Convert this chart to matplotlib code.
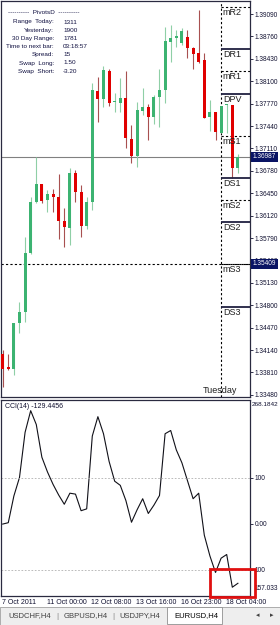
import matplotlib
matplotlib.use('Agg')
import matplotlib.pyplot as plt
from matplotlib.patches import Rectangle

plt.rcParams['font.family'] = ['Liberation Sans', 'DejaVu Sans']

# EURUSD H4 candles
opens = [1.34081, 1.33889, 1.33860, 1.34538, 1.34700, 1.35569, 1.36320, 1.36585, 1.36350, 1.36438,
         1.36394, 1.36040, 1.35937, 1.36747, 1.36467, 1.35967, 1.36320, 1.37955, 1.37838, 1.38250,
         1.37793, 1.37779, 1.37852, 1.37248, 1.36998, 1.37661, 1.37720, 1.37572, 1.37867, 1.37970,
         1.38677, 1.38736, 1.38663, 1.38751, 1.38589, 1.38515, 1.38412, 1.37572, 1.37646, 1.37337,
         1.37749, 1.37749, 1.36821]
highs = [1.34140, 1.34081, 1.34538, 1.34847, 1.35805, 1.36394, 1.36983, 1.36585, 1.36497, 1.36512,
         1.36733, 1.36232, 1.36821, 1.36792, 1.36571, 1.36394, 1.38073, 1.38162, 1.38324, 1.38279,
         1.37926, 1.38147, 1.38250, 1.37454, 1.37793, 1.38000, 1.37764, 1.37896, 1.38279, 1.38898,
         1.38928, 1.38854, 1.38884, 1.38854, 1.38604, 1.39149, 1.38515, 1.37823, 1.37646, 1.37734,
         1.37764, 1.37749, 1.37027]
lows = [1.33595, 1.33845, 1.33771, 1.34390, 1.34552, 1.35554, 1.36305, 1.36305, 1.36173, 1.36173,
        1.35775, 1.35657, 1.35687, 1.36320, 1.35805, 1.35922, 1.36202, 1.37499, 1.37720, 1.37734,
        1.37646, 1.37646, 1.37116, 1.36895, 1.36836, 1.37602, 1.37234, 1.37469, 1.37425, 1.37779,
        1.38383, 1.38604, 1.38633, 1.38442, 1.38279, 1.38368, 1.37558, 1.37366, 1.37234, 1.37337,
        1.37337, 1.36674, 1.36747]
closes = [1.33860, 1.33860, 1.34538, 1.34700, 1.35569, 1.36320, 1.36585, 1.36335, 1.36438, 1.36394,
          1.36040, 1.35952, 1.36747, 1.36467, 1.35967, 1.36320, 1.37970, 1.37838, 1.38265, 1.37779,
          1.37808, 1.37852, 1.37263, 1.36998, 1.37675, 1.37720, 1.37572, 1.37867, 1.37970, 1.38692,
          1.38736, 1.38766, 1.38839, 1.38589, 1.38500, 1.38383, 1.37558, 1.37646, 1.37351, 1.37734,
          1.37764, 1.36821, 1.36983]

cci = [-1, 2, 60, 100, 198, 245, 215, 144, 112, 85, 62, 42, 66, 64, 28, 32, 190, 232, 195, 135,
       92, 83, 50, 3, 30, 54, 22, 40, 61, 195, 202, 160, 132, 93, 54, 66, -25, -70, -106, -75,
       -67, -138, -129.4456]

pivot_names = ['mR2', 'DR1', 'mR1', 'DPV', 'mS1', 'DS1', 'mS2', 'DS2', 'mS3', 'DS3']
pivot_levels = [1.39193, 1.38574, 1.38250, 1.37911, 1.37293, 1.36674, 1.36350, 1.36026, 1.35409, 1.34774]
bid = 1.36987
line_level = 1.35409
day_start_bar = 39

price_ticks = [1.39090, 1.38760, 1.38430, 1.38100, 1.37770, 1.37440, 1.37110, 1.36780, 1.36450,
               1.36120, 1.35790, 1.35460, 1.35130, 1.34800, 1.34470, 1.34140, 1.33810, 1.33480]
cci_top, cci_bottom = 268.1842, -157.033

time_labels = ['7 Oct 2011', '11 Oct 00:00', '12 Oct 08:00', '13 Oct 16:00', '16 Oct 23:00', '18 Oct 04:00']
time_bars = [0, 8, 16, 24, 32, 40]

info_keys = ['Range  Today:', 'Yesterday:', '30 Day Range:', 'Time to next bar:', 'Spread:',
             'Swap  Long:', 'Swap  Short:']
info_vals = ['1311', '1900', '1781', '03:18:57', '15', '1.50', '-3.20']
tabs = ['USDCHF,H4', 'GBPUSD,H4', 'USDJPY,H4', 'EURUSD,H4']

W, H = 280, 625
def fx(p): return p / W
def fy(p): return 1 - p / H

fig = plt.figure(figsize=(2.8, 6.25), dpi=100)
ax = fig.add_axes([fx(1), fy(397), fx(249), 396 / H])
cax = fig.add_axes([fx(1), fy(596), fx(249), 196 / H])

xlim = (-0.30, 44.16)
frame = '#2a2a40'
for a in (ax, cax):
    a.set_xlim(*xlim)
    for s in a.spines.values():
        s.set_color(frame)
        s.set_linewidth(0.9)
    a.set_xticks([])
    a.yaxis.tick_right()
    a.tick_params(axis='y', direction='out', length=2, width=0.6, labelsize=4.7, pad=1.5,
                  colors='#101030')

# candles
bull, bear = '#3cb371', '#e00000'
for i in range(len(opens)):
    o, h, l, c = opens[i], highs[i], lows[i], closes[i]
    up = c >= o
    ax.vlines(i, l, h, color='#8fcfa6' if up else '#a85050', lw=0.8, zorder=2)
    ax.bar(i, max(abs(c - o), 0.00004), bottom=min(o, c), width=0.55,
           color=bull if up else bear, zorder=3)

ax.set_ylim(1.33448, 1.39282)
ax.set_yticks(price_ticks)
ax.set_yticklabels([f'{v:.5f}' for v in price_ticks])

ax.axhline(bid, color='#808080', lw=0.8, zorder=1)
ax.axhline(line_level, color='black', lw=0.8, ls=(0, (2, 2)), zorder=1)
ax.axvline(day_start_bar, color='black', lw=0.8, ls=(0, (2, 2)), zorder=1)
for name, lev in zip(pivot_names, pivot_levels):
    if name.startswith('m'):
        ax.hlines(lev, day_start_bar, xlim[1], color='black', lw=0.8, ls=(0, (2, 2)))
    else:
        ax.hlines(lev, day_start_bar, xlim[1], color='#202040', lw=1.3)
    ax.text(day_start_bar + 0.3, lev - 0.00012, name, ha='left', va='top', fontsize=6.5,
            color='#202020')
ax.text(41.9, 0.004, 'Tuesday', transform=ax.get_xaxis_transform(), ha='right', va='bottom',
        fontsize=6.5, color='#202020')

for lev, txt in [(bid, '1.36987'), (line_level, '1.35409')]:
    ax.text(1.012, lev, txt, transform=ax.get_yaxis_transform(), ha='left', va='center',
            fontsize=4.7, color='white', clip_on=False, zorder=5,
            bbox=dict(boxstyle='square,pad=0.25', fc='#0a1464', ec='none'))

# info block
fig.text(fx(44), fy(13), '----------  PivotsD  ----------', ha='center', va='center',
         fontsize=4.6, color='#101040')
for k, (key, val) in enumerate(zip(info_keys, info_vals)):
    yy = 22 + k * 8.2
    fig.text(fx(54), fy(yy), key, ha='right', va='center', fontsize=4.6, color='#101040')
    fig.text(fx(63), fy(yy), val, ha='left', va='center', fontsize=4.6, color='#101040')

# CCI pane
cax.plot(range(len(cci)), cci, color='#101018', lw=0.8)
cax.set_ylim(cci_bottom, cci_top)
for lev in (100, -100):
    cax.axhline(lev, color='#b0b0b0', lw=0.6, ls=(0, (2, 2)))
cax.set_yticks([100, 0, -100])
cax.set_yticklabels(['100', '0.00', '100'])
cax.text(1.008, 0.99, '268.1842', transform=cax.transAxes, ha='left', va='top', fontsize=4.6,
         color='#101030', clip_on=False)
cax.text(1.02, 0.02, '157.033', transform=cax.transAxes, ha='left', va='bottom', fontsize=4.7,
         color='#101030', clip_on=False)
cax.text(0.015, 0.985, 'CCI(14) -129.4456', transform=cax.transAxes, ha='left', va='top',
         fontsize=5, color='#101030')

for b, lab in zip(time_bars, time_labels):
    cax.text(b - 0.15, -0.032, lab, transform=cax.get_xaxis_transform(), ha='left', va='center',
             fontsize=5, color='#101030', clip_on=False)

# highlight box
fig.patches.append(Rectangle((fx(210), fy(597)), fx(45), 28 / H, transform=fig.transFigure,
                             fill=False, ec='#e01010', lw=2, zorder=10))

# tab bar
fig.patches.append(Rectangle((0, 0), 1, 18 / H, transform=fig.transFigure, fc='#eeeeee',
                             ec='#a0a0a0', lw=0.6))
fig.patches.append(Rectangle((fx(167), fy(624)), fx(55), 17 / H, transform=fig.transFigure,
                             fc='white', ec='#909090', lw=0.6))
for xx, t in zip([8, 64, 119, 174], tabs):
    fig.text(fx(xx), fy(616), t, ha='left', va='center', fontsize=5.5,
             color='black' if t == 'EURUSD,H4' else '#404040')
for xx in [57, 113]:
    fig.text(fx(xx), fy(616), '|', ha='center', va='center', fontsize=6, color='#808080')
fig.text(fx(258), fy(616), '◂', ha='center', va='center', fontsize=5, color='#404040')
fig.text(fx(272), fy(616), '▸', ha='center', va='center', fontsize=5, color='#404040')

fig.savefig('out.png', dpi=100)
